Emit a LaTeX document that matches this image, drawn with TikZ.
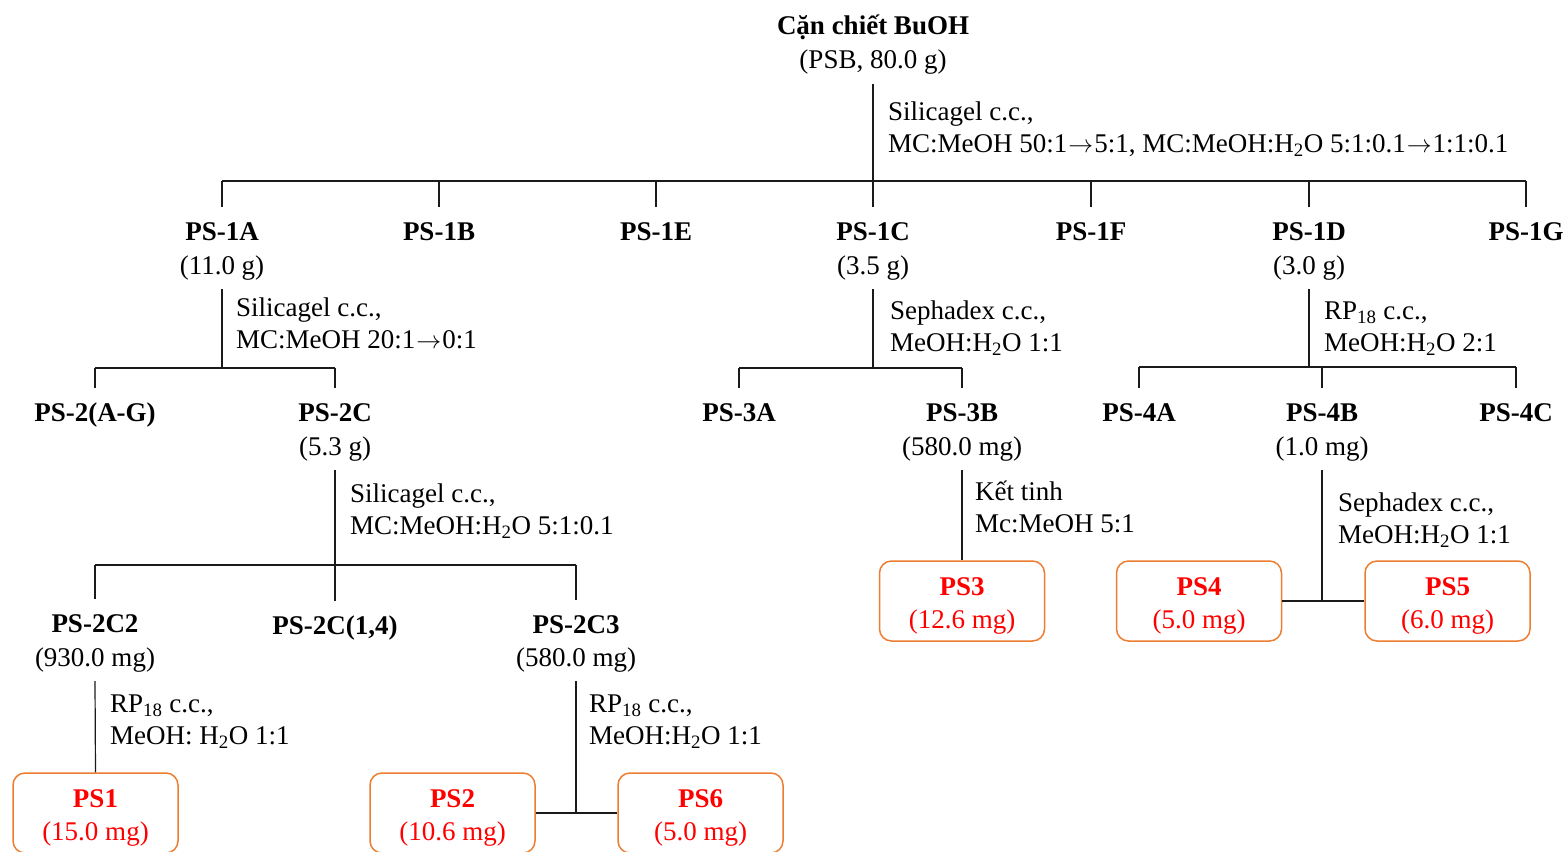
\documentclass[tikz,border=0pt]{standalone}
\usepackage{fontspec}
\setmainfont{Liberation Serif}
\definecolor{boxor}{HTML}{ED7D31}
\definecolor{lncol}{HTML}{1A1A1A}
\newcommand\fs{\fontsize{27}{34}\selectfont}
\newcommand\lfs{\fontsize{27}{32}\selectfont}
\newcommand\subs[1]{\textsubscript{#1}}
\newcommand\arr{\kern1pt$\rightarrow$\kern1pt}
\begin{document}
\begin{tikzpicture}[x=1pt,y=-1pt,
 tn/.style={font=\fs, text height=24pt, text depth=6pt, inner xsep=0pt, inner ysep=9pt},
 tb/.style={tn, font=\fs\bfseries},
 lbl/.style={font=\lfs, align=left, anchor=west, inner sep=0pt},
 res/.style={draw=boxor, line width=1.5pt, rounded corners=12pt, minimum width=165pt, minimum height=80pt, inner sep=0pt},
 rtxt/.style={align=center, text=red, font=\fontsize{27}{33}\selectfont, inner sep=0pt},
 ln/.style={draw=lncol, line width=1.2pt}]
\useasboundingbox (0,0) rectangle (1568,851);

% root
\node[tb] (root) at (873,26) {Cặn chiết BuOH};
\node[tn] (rootm) at (873,60) {(PSB, 80.0 g)};
\node[lbl] (l0) at (888,129) {Silicagel c.c.,\\MC:MeOH 50:1\arr5:1, MC:MeOH:H\subs{2}O 5:1:0.1\arr1:1:0.1};

% level 1
\node[tb] (p1a) at (222,231) {PS-1A};
\node[tn] (p1am) at (222,265) {(11.0 g)};
\node[tb] (p1b) at (439,231) {PS-1B};
\node[tb] (p1e) at (656,231) {PS-1E};
\node[tb] (p1c) at (873,231) {PS-1C};
\node[tn] (p1cm) at (873,265) {(3.5 g)};
\node[tb] (p1f) at (1091,231) {PS-1F};
\node[tb] (p1d) at (1309,231) {PS-1D};
\node[tn] (p1dm) at (1309,265) {(3.0 g)};
\node[tb] (p1g) at (1526,231) {PS-1G};

\coordinate (b0) at (873,181);
\draw[ln] (rootm.south) -- (b0);
\draw[ln] (p1a.north |- b0) -- (p1g.north |- b0);
\foreach \n in {p1a,p1b,p1e,p1c,p1f,p1d,p1g} \draw[ln] (\n.north |- b0) -- (\n.north);

% from PS-1A
\node[lbl] (l1a) at (236,323) {Silicagel c.c.,\\MC:MeOH 20:1\arr0:1};
\node[tb] (p2ag) at (95,412) {PS-2(A-G)};
\node[tb] (p2c) at (335,412) {PS-2C};
\node[tn] (p2cm) at (335,446) {(5.3 g)};
\coordinate (b1a) at (222,368);
\draw[ln] (p1am.south) -- (b1a);
\draw[ln] (p2ag.north |- b1a) -- (p2c.north |- b1a);
\foreach \n in {p2ag,p2c} \draw[ln] (\n.north |- b1a) -- (\n.north);

% from PS-1C
\node[lbl] (l1c) at (890,328) {Sephadex c.c.,\\MeOH:H\subs{2}O 1:1};
\node[tb] (p3a) at (739,412) {PS-3A};
\node[tb] (p3b) at (962,412) {PS-3B};
\node[tn] (p3bm) at (962,446) {(580.0 mg)};
\coordinate (b1c) at (873,368);
\draw[ln] (p1cm.south) -- (b1c);
\draw[ln] (p3a.north |- b1c) -- (p3b.north |- b1c);
\foreach \n in {p3a,p3b} \draw[ln] (\n.north |- b1c) -- (\n.north);

% from PS-1D
\node[lbl] (l1d) at (1324,329) {RP\subs{18} c.c.,\\MeOH:H\subs{2}O 2:1};
\node[tb] (p4a) at (1139,412) {PS-4A};
\node[tb] (p4b) at (1322,412) {PS-4B};
\node[tn] (p4bm) at (1322,446) {(1.0 mg)};
\node[tb] (p4c) at (1516,412) {PS-4C};
\coordinate (b1d) at (1309,367);
\draw[ln] (p1dm.south) -- (b1d);
\draw[ln] (p4a.north |- b1d) -- (p4c.north |- b1d);
\foreach \n in {p4a,p4b,p4c} \draw[ln] (\n.north |- b1d) -- (\n.north);

% from PS-2C
\node[lbl] (l2c) at (350,511) {Silicagel c.c.,\\MC:MeOH:H\subs{2}O 5:1:0.1};
\node[tb] (p2c2) at (95,623) {PS-2C2};
\node[tn] (p2c2m) at (95,657) {(930.0 mg)};
\node[tb] (p2c14) at (335,625) {PS-2C(1,4)};
\node[tb] (p2c3) at (576,624) {PS-2C3};
\node[tn] (p2c3m) at (576,657) {(580.0 mg)};
\coordinate (b2c) at (335,565);
\draw[ln] (p2cm.south) -- (b2c);
\draw[ln] (p2c2.north |- b2c) -- (p2c3.north |- b2c);
\foreach \n in {p2c2,p2c14,p2c3} \draw[ln] (\n.north |- b2c) -- (\n.north);

% results
\node[res] (ps1) at (95.5,813) {};
\node[res] (ps2) at (452.5,813) {};
\node[res] (ps6) at (700.5,813) {};
\node[res] (ps3) at (962,601) {};
\node[res] (ps4) at (1199,601) {};
\node[res] (ps5) at (1447.5,601) {};
\node[rtxt] (ps1t) at ([yshift=-5pt]ps1.center) {\textbf{PS1}\\(15.0 mg)};
\node[rtxt] (ps2t) at ([yshift=-5pt]ps2.center) {\textbf{PS2}\\(10.6 mg)};
\node[rtxt] (ps6t) at ([yshift=-5pt]ps6.center) {\textbf{PS6}\\(5.0 mg)};
\node[rtxt] (ps3t) at ([yshift=-5pt]ps3.center) {\textbf{PS3}\\(12.6 mg)};
\node[rtxt] (ps4t) at ([yshift=-5pt]ps4.center) {\textbf{PS4}\\(5.0 mg)};
\node[rtxt] (ps5t) at ([yshift=-5pt]ps5.center) {\textbf{PS5}\\(6.0 mg)};

\node[lbl] (l2c2) at (110,722) {RP\subs{18} c.c.,\\MeOH: H\subs{2}O 1:1};
\draw[ln] (p2c2m.south) -- (ps1.north);

\node[lbl] (l2c3) at (589,722) {RP\subs{18} c.c.,\\MeOH:H\subs{2}O 1:1};
\coordinate (j23) at (576,813);
\draw[ln] (p2c3m.south) -- (j23);
\draw[ln] (ps2.east) -- (ps6.west);

\node[lbl] (l3b) at (975,507) {Kết tinh\\Mc:MeOH 5:1};
\draw[ln] (p3bm.south) -- (ps3.north);

\node[lbl] (l4b) at (1338,520) {Sephadex c.c.,\\MeOH:H\subs{2}O 1:1};
\coordinate (j4b) at (1322,601);
\draw[ln] (p4bm.south) -- (j4b);
\draw[ln] (ps4.east) -- (ps5.west);
\end{tikzpicture}
\end{document}
